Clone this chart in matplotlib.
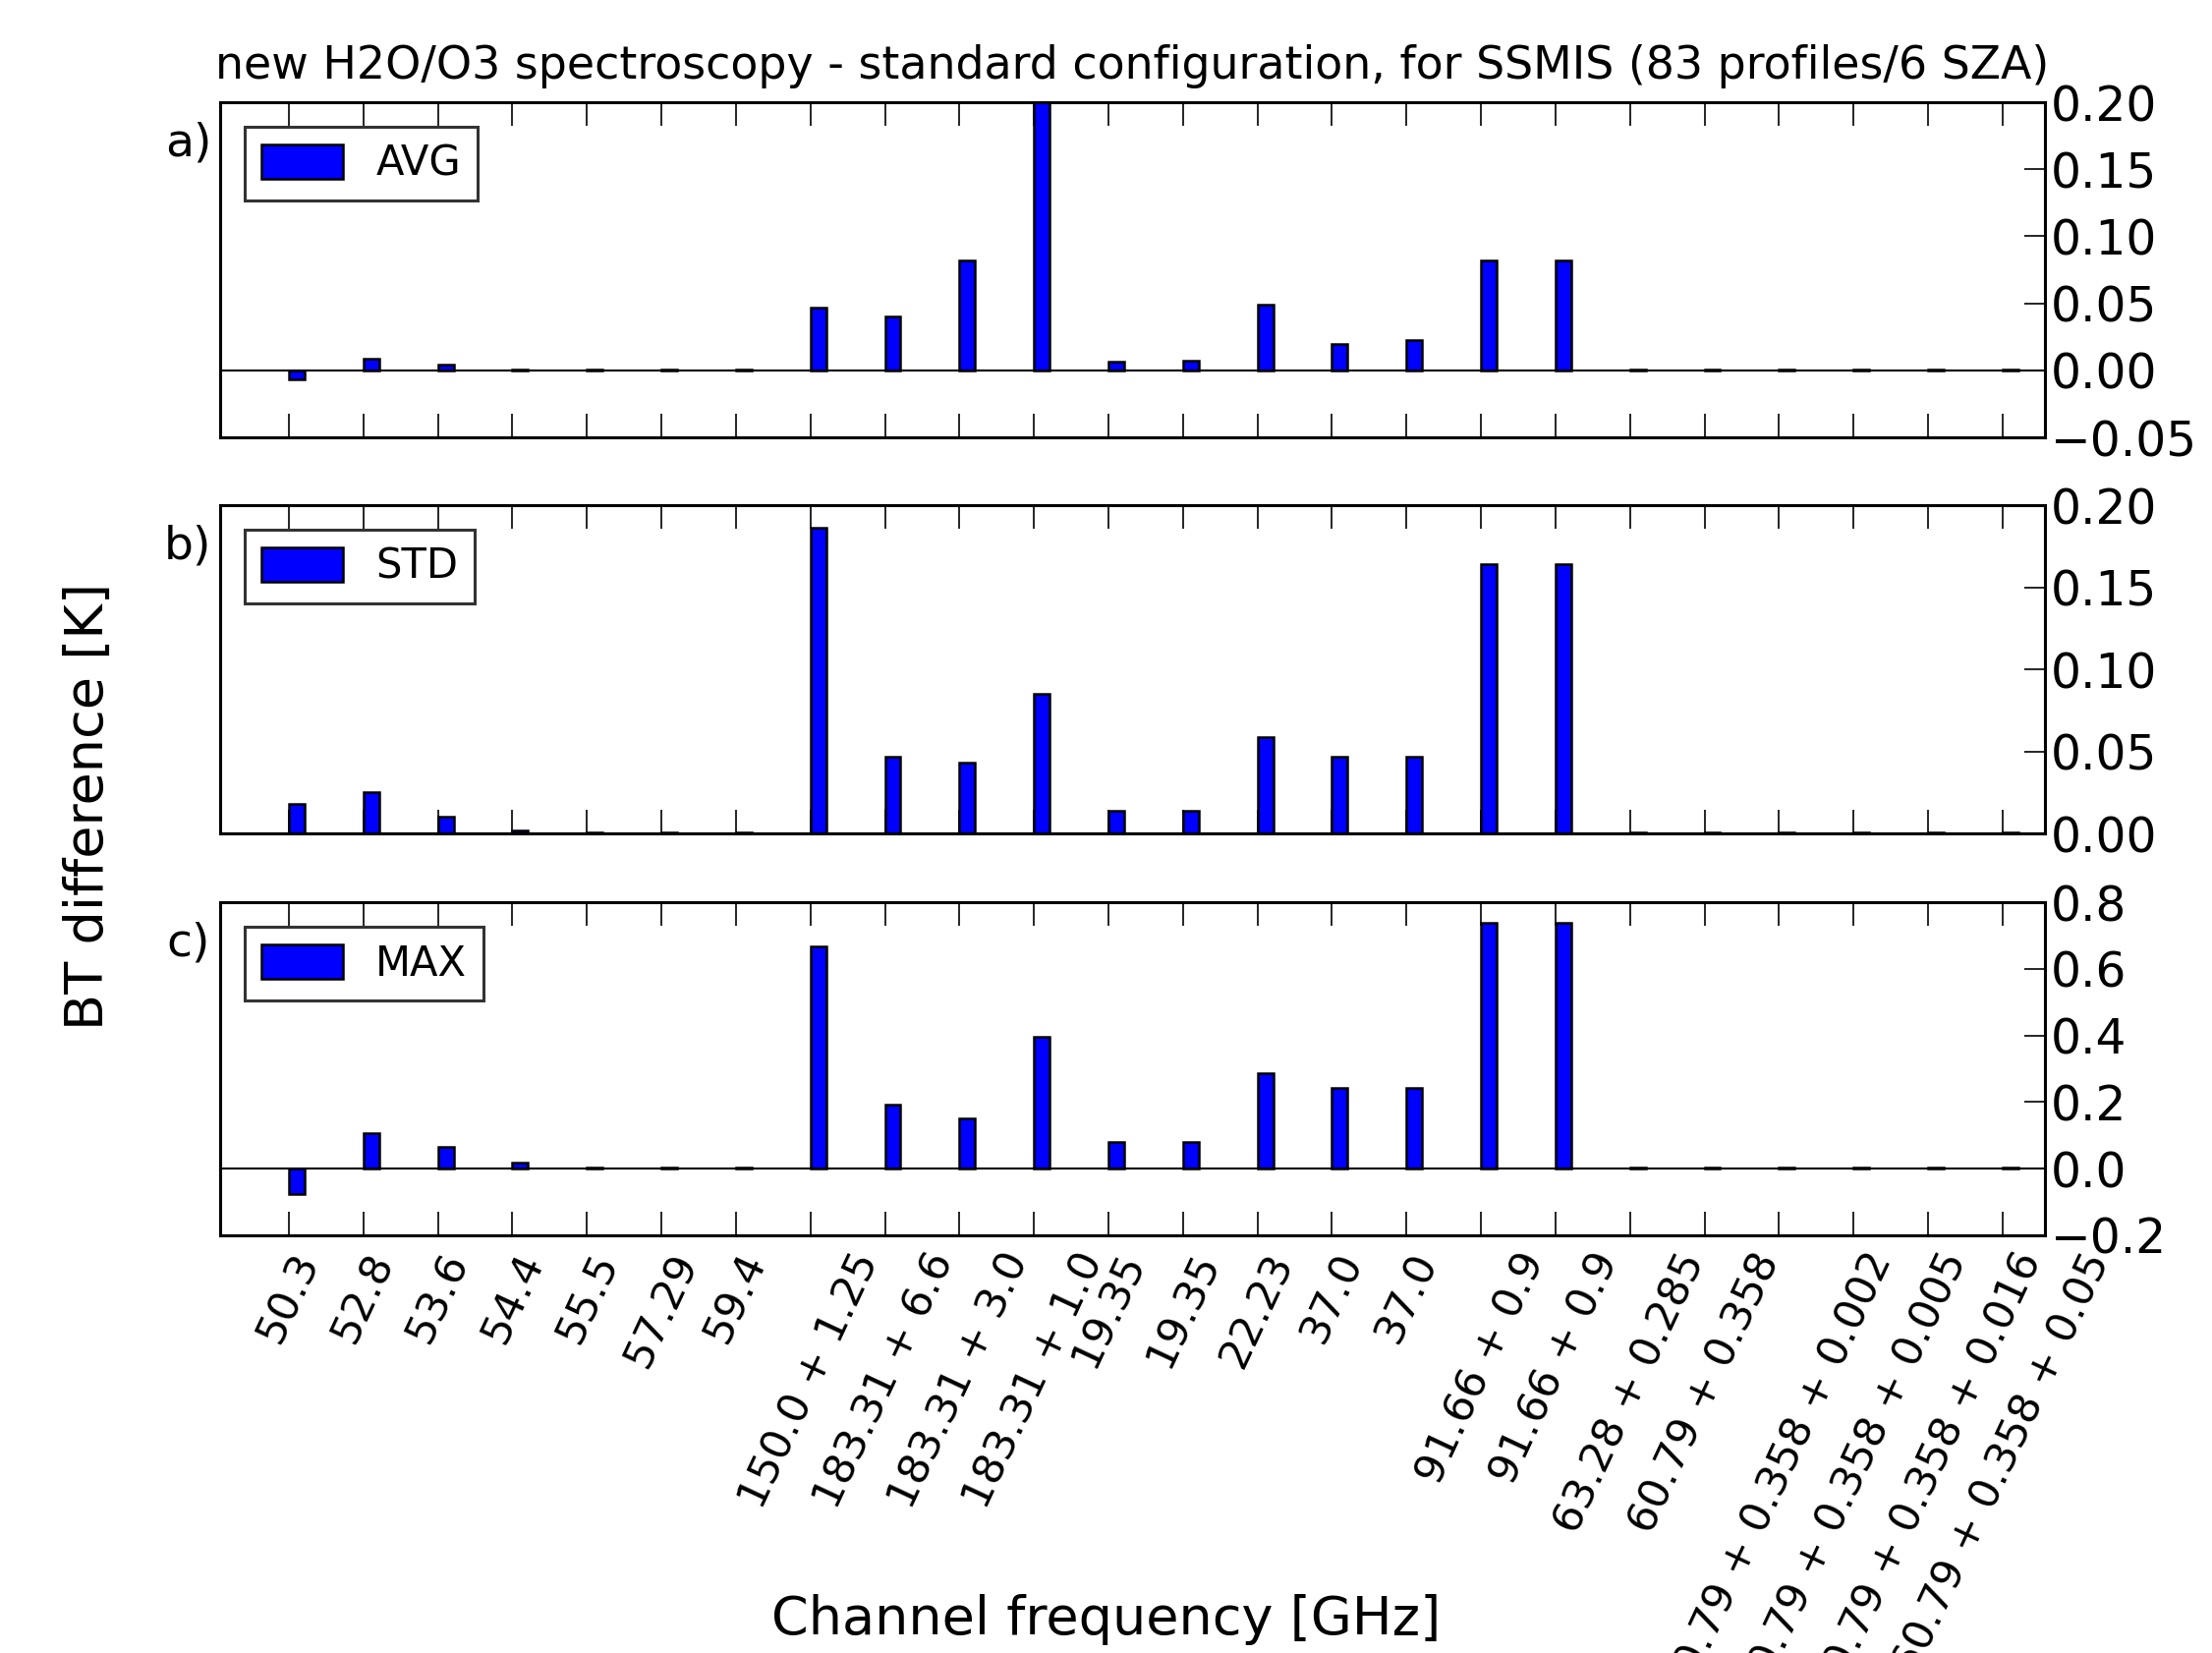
import numpy as np
import matplotlib
matplotlib.use('Agg')
import matplotlib.pyplot as plt

# SSMIS channels
channels = ['50.3', '52.8', '53.6', '54.4', '55.5', '57.29', '59.4',
            '150.0 + 1.25', '183.31 + 6.6', '183.31 + 3.0', '183.31 + 1.0',
            '19.35', '19.35', '22.23', '37.0', '37.0',
            '91.66 + 0.9', '91.66 + 0.9', '63.28 + 0.285', '60.79 + 0.358',
            '60.79 + 0.358 + 0.002', '60.79 + 0.358 + 0.005',
            '60.79 + 0.358 + 0.016', '60.79 + 0.358 + 0.05']

avg = [-0.007, 0.009, 0.0045, 0.0005, 0.0005, 0.0005, 0.0005,
       0.047, 0.040, 0.082, 0.200, 0.0065, 0.007, 0.049, 0.020, 0.0225,
       0.082, 0.082, 0.0005, 0.0005, 0.0005, 0.0005, 0.0005, 0.0005]
std = [0.018, 0.025, 0.0105, 0.002, 0.0005, 0.0005, 0.0005,
       0.186, 0.0465, 0.043, 0.085, 0.014, 0.014, 0.059, 0.0465, 0.0465,
       0.164, 0.164, 0.0005, 0.0005, 0.0005, 0.0005, 0.0005, 0.0005]
mx = [-0.075, 0.107, 0.064, 0.018, 0.002, 0.002, 0.002,
      0.668, 0.191, 0.151, 0.396, 0.080, 0.080, 0.288, 0.243, 0.243,
      0.738, 0.738, 0.002, 0.002, 0.002, 0.002, 0.002, 0.002]

panels = [('a)', 'AVG', avg, (-0.05, 0.20), np.arange(-0.05, 0.201, 0.05), '%.2f'),
          ('b)', 'STD', std, (0.0, 0.20), np.arange(0.0, 0.201, 0.05), '%.2f'),
          ('c)', 'MAX', mx, (-0.2, 0.8), np.arange(-0.2, 0.81, 0.2), '%.1f')]

positions = [[0.0995, 0.7354, 0.825, 0.2027],
             [0.0995, 0.4958, 0.825, 0.1986],
             [0.0995, 0.2527, 0.825, 0.2015]]

fig = plt.figure(figsize=(22.51, 16.82), dpi=100)
x = np.arange(len(channels))

for k, (letter, name, vals, ylim, yt, fmt) in enumerate(panels):
    ax = fig.add_axes(positions[k])
    ax.bar(x, vals, width=0.21, align='edge', color='#0000ff',
           edgecolor='black', linewidth=1.8, label=name)
    ax.axhline(0, color='black', linewidth=1.5)
    ax.set_xlim(-0.923, 23.57)
    ax.set_ylim(*ylim)
    ax.set_yticks(yt)
    ax.set_yticklabels([(fmt % v).replace('-', '\u2212') for v in yt])
    ax.yaxis.tick_right()
    ax.set_xticks(x)
    ax.tick_params(axis='x', direction='in', length=17, width=1.2,
                   top=True, bottom=True, pad=8)
    ax.tick_params(axis='y', direction='in', length=15, width=1.2,
                   labelsize=35, pad=4)
    for sp in ax.spines.values():
        sp.set_linewidth(2.2)
    if k < 2:
        ax.set_xticklabels([])
    else:
        ax.set_xticklabels(channels, rotation=65, fontsize=31)
    leg = ax.legend(loc='upper left', fontsize=30, fancybox=False,
                    handleheight=0.9, borderaxespad=0.6)
    leg.get_frame().set_edgecolor('black')
    leg.get_frame().set_linewidth(2.2)
    fig.text(0.085, positions[k][1] + positions[k][3] - 0.025, letter,
             fontsize=34, ha='center', va='center')

fig.text(0.512, 0.960, 'new H2O/O3 spectroscopy - standard configuration, for SSMIS (83 profiles/6 SZA)',
         fontsize=33, ha='center', va='center')
fig.text(0.040, 0.512, 'BT difference [K]', fontsize=39, rotation=90,
         ha='center', va='center')
fig.text(0.500, 0.020, 'Channel frequency [GHz]', fontsize=39,
         ha='center', va='center')

fig.savefig('out.png', dpi=100)
